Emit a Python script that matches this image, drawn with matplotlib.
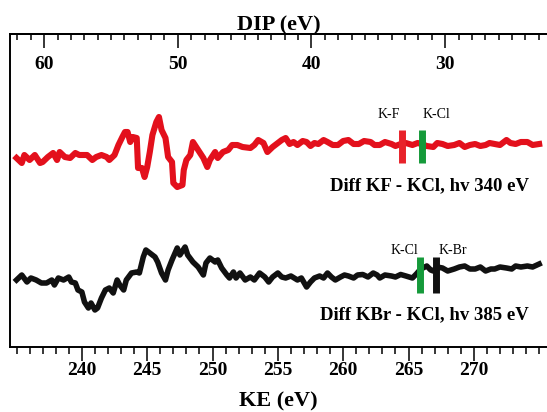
import matplotlib
matplotlib.use("Agg")
import matplotlib.pyplot as plt
from matplotlib.ticker import MultipleLocator, FixedLocator

plt.rcParams['font.family'] = ['Liberation Serif', 'DejaVu Serif']
plt.rcParams['font.weight'] = 'bold'
plt.rcParams['axes.labelweight'] = 'bold'

# diferencia KF - KCl (hv 340 eV), unidades arbitrarias con desplazamiento
ke_kf = [235.0, 235.4, 235.6, 236.0, 236.4, 236.8, 237.0, 237.4, 237.8, 238.1,
         238.3, 238.7, 239.1, 239.5, 239.8, 240.4, 240.8, 241.1, 241.5, 241.9,
         242.1, 242.5, 242.8, 243.1, 243.3, 243.5, 243.7, 243.9, 244.2, 244.3,
         244.6, 244.8, 245.0, 245.2, 245.4, 245.7, 245.9, 246.1, 246.4, 246.6,
         246.9, 247.0, 247.3, 247.7, 247.8, 248.0, 248.3, 248.5, 248.8, 249.0,
         249.3, 249.6, 249.8, 250.2, 250.4, 250.8, 251.2, 251.5, 251.9, 252.3,
         252.9, 253.2, 253.5, 253.9, 254.2, 254.6,
         255.0, 255.3, 255.6, 255.9, 256.2, 256.5, 256.9, 257.2, 257.5, 257.8,
         258.1, 258.5, 258.8, 259.2, 259.6, 260.0, 260.4, 260.8, 261.2, 261.6,
         262.1, 262.4, 262.8, 263.2, 263.7, 264.0, 264.4, 264.8, 265.3, 265.7,
         266.0, 266.4, 266.9, 267.2, 267.6, 268.0, 268.5, 268.9, 269.3, 269.7,
         270.1, 270.5, 270.9, 271.2, 271.6, 272.0, 272.5, 272.8, 273.2, 273.6,
         274.1, 274.5, 275.0]
y_kf = [18.9, 18.4, 19.2, 18.7, 19.2, 18.4, 18.5, 19.0, 19.4, 18.7,
        19.5, 19.0, 18.9, 19.4, 19.2, 19.2, 18.7, 19.0, 19.2, 19.0,
        18.7, 19.2, 20.2, 21.0, 21.5, 21.5, 20.5, 21.0, 20.9, 17.9,
        17.9, 17.0, 18.0, 19.5, 21.2, 22.5, 23.0, 21.7, 20.9, 19.0,
        18.5, 16.4, 16.0, 16.2, 17.7, 18.7, 19.2, 20.5, 19.9, 19.5,
        18.9, 18.0, 18.7, 19.5, 18.9, 19.5, 19.7, 20.2, 20.2, 20.0,
        19.9, 20.2, 20.7, 20.4, 19.5, 20.0,
        20.4, 20.7, 20.9, 20.3, 20.5, 20.2, 20.6, 20.5, 20.1, 20.4,
        20.3, 20.7, 20.5, 20.2, 20.2, 20.6, 20.7, 20.3, 20.3, 20.6,
        20.5, 20.2, 20.2, 20.5, 20.3, 20.1, 20.3, 20.4, 20.2, 20.4,
        20.3, 20.1, 20.0, 20.4, 20.3, 20.1, 20.2, 20.4, 20.0, 20.2,
        20.3, 20.1, 20.2, 20.4, 20.3, 20.2, 20.7, 20.4, 20.3, 20.5,
        20.5, 20.2, 20.3]

# diferencia KBr - KCl (hv 385 eV)
ke_kbr = [235.0, 235.4, 235.8, 236.1, 236.5, 236.9, 237.3, 237.7, 237.9, 238.2,
          238.6, 239.0, 239.2, 239.5, 239.7, 240.0, 240.2, 240.5, 240.7, 241.0,
          241.2, 241.5, 241.8, 242.1, 242.4, 242.7, 242.9, 243.2, 243.4, 243.8,
          244.2, 244.4, 244.7, 244.9, 245.2, 245.6, 245.8, 246.1, 246.4, 246.6,
          246.9, 247.3, 247.5, 247.9, 248.1, 248.5, 248.9, 249.3, 249.5, 249.8,
          250.2, 250.4, 250.7, 251.1, 251.3, 251.6, 251.8, 252.1, 252.5, 252.9,
          253.2, 253.6, 254.0, 254.3, 254.6,
          255.0, 255.3, 255.6, 256.0, 256.5, 256.8, 257.2, 257.5, 257.8, 258.2,
          258.5, 258.8, 259.1, 259.4, 259.8, 260.1, 260.4, 260.8, 261.1, 261.5,
          261.9, 262.3, 262.6, 262.8, 263.2, 263.7, 264.0, 264.4, 264.8, 265.3,
          265.6, 265.8, 266.1, 266.4, 266.7, 266.9, 267.2, 267.6, 268.0, 268.5,
          268.9, 269.3, 269.7, 270.1, 270.5, 270.9, 271.3, 271.6, 272.0, 272.5,
          272.9, 273.2, 273.6, 274.1, 274.5, 275.0]
y_kbr = [6.7, 7.2, 6.5, 6.9, 6.7, 6.4, 6.4, 6.7, 6.2, 6.9,
         6.7, 7.0, 6.5, 6.4, 5.7, 5.5, 4.5, 3.9, 4.4, 3.7,
         3.9, 4.9, 5.7, 5.9, 5.4, 6.7, 6.2, 5.7, 6.7, 7.4,
         7.5, 7.4, 9.0, 9.7, 9.4, 9.0, 8.5, 7.4, 6.7, 7.7,
         8.7, 9.9, 9.2, 10.0, 9.2, 8.5, 8.0, 7.2, 8.4, 8.9,
         8.5, 8.7, 7.9, 7.2, 6.9, 7.5, 6.9, 7.4, 6.7, 7.0,
         6.7, 7.4, 7.0, 6.5, 7.0,
         7.4, 7.0, 6.9, 7.1, 6.7, 6.9, 6.0, 6.5, 6.9, 7.1,
         6.9, 7.4, 7.0, 6.7, 7.0, 7.2, 7.1, 6.9, 7.2, 7.25,
         7.0, 7.4, 7.2, 6.9, 7.2, 7.1, 7.0, 7.25, 7.1, 6.9,
         7.3, 7.6, 7.9, 8.1, 7.7, 7.6, 8.0, 7.9, 7.6, 7.8,
         8.0, 8.1, 7.8, 7.8, 8.0, 7.6, 7.8, 7.8, 8.0, 7.9,
         7.8, 8.1, 8.0, 8.1, 8.0, 8.3]

# marcadores de enlace (KE, etiqueta, color)
marcas_kf = [(264.5, 'K-F', '#e8222a'), (266.0, 'K-Cl', '#159a3a')]
marcas_kbr = [(265.9, 'K-Cl', '#159a3a'), (267.1, 'K-Br', '#111111')]
etiq_kf = [263.5, 267.1]
etiq_kbr = [264.7, 268.4]
ticks_ke = [240, 245, 250, 255, 260, 265, 270]
ticks_dip = [60, 50, 40, 30]


def ke2dip(ke):
    return 291.78 - 0.9775 * ke


def dip2ke(dip):
    return (291.78 - dip) / 0.9775


fig = plt.figure(figsize=(5.47, 4.12), dpi=100)
ax = fig.add_axes([10/547, 1 - 347/412, 537/547, 313/412])

ax.plot(ke_kf, y_kf, color='#e3101c', lw=4.4, solid_joinstyle='round')
ax.plot(ke_kbr, y_kbr, color='#111111', lw=4, solid_joinstyle='round')

for (x, lab, c), xt in zip(marcas_kf, etiq_kf):
    ax.plot([x, x], [18.4, 21.7], color=c, lw=5, solid_capstyle='butt')
    ax.text(xt, 23.3, lab, ha='center', va='center', fontsize=10,
            fontweight='normal')
for (x, lab, c), xt in zip(marcas_kbr, etiq_kbr):
    ax.plot([x, x], [5.4, 9.0], color=c, lw=5, solid_capstyle='butt')
    ax.text(xt, 9.65, lab, ha='center', va='center', fontsize=10,
            fontweight='normal')

ax.text(274.2, 16.15, 'Diff KF - KCl, hv 340 eV', ha='right', va='center',
        fontsize=13.5)
ax.text(274.2, 3.2, 'Diff KBr - KCl, hv 385 eV', ha='right', va='center',
        fontsize=13.5)

ax.set_xlim(234.5, 275.6)
ax.set_ylim(0, 31.3)
ax.set_yticks([])
ax.spines['right'].set_visible(False)
for s in ['left', 'bottom', 'top']:
    ax.spines[s].set_linewidth(1.4)

ax.xaxis.set_major_locator(FixedLocator(ticks_ke))
ax.xaxis.set_minor_locator(MultipleLocator(1))
ax.tick_params(axis='x', which='major', direction='out', length=10, width=1.1,
               labelsize=14, pad=1)
ax.tick_params(axis='x', which='minor', direction='out', length=5, width=1.1)
ax.set_xlabel('KE (eV)', fontsize=16, labelpad=9)

sec = ax.secondary_xaxis('top', functions=(ke2dip, dip2ke))
sec.spines['top'].set_linewidth(1.4)
sec.xaxis.set_major_locator(FixedLocator(ticks_dip))
sec.xaxis.set_minor_locator(MultipleLocator(1))
sec.tick_params(axis='x', which='major', direction='in', length=10, width=1.1,
                labelsize=14, pad=-28)
sec.tick_params(axis='x', which='minor', direction='in', length=4.5, width=1.1)
sec.set_xlabel('DIP (eV)', fontsize=16, labelpad=-1)

fig.savefig('out.png', dpi=100)
